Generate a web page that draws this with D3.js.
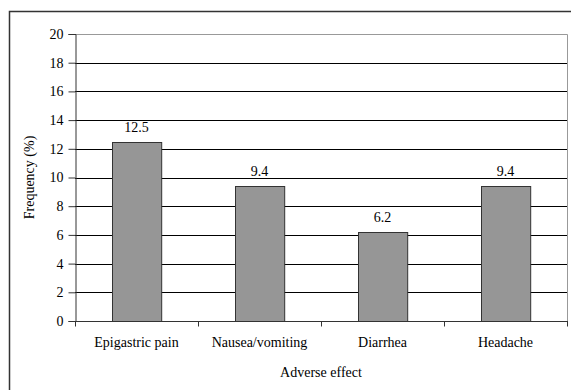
<!DOCTYPE html>
<html>
<head>
<meta charset="utf-8">
<script src="https://cdn.jsdelivr.net/npm/d3@7"></script>
<style>
  body { margin: 0; background: #fff; }
</style>
</head>
<body>
<div id="chart"></div>
<script>
const categories = ["Epigastric pain", "Nausea/vomiting", "Diarrhea", "Headache"];
const frequency = [12.5, 9.4, 6.2, 9.4];
const yTicks = [0, 2, 4, 6, 8, 10, 12, 14, 16, 18, 20];

const width = 571, height = 390;
const margin = {top: 34, right: 4, bottom: 69, left: 75};
const serif = "'Liberation Serif', 'Times New Roman', serif";

const svg = d3.select("#chart")
    .append("svg")
    .attr("width", width)
    .attr("height", height)
    .style("font-family", serif);

// outer chart frame (cut off at right and bottom)
svg.append("rect")
    .attr("x", 9.5)
    .attr("y", 11.5)
    .attr("width", width)
    .attr("height", height)
    .attr("fill", "none")
    .attr("stroke", "#333")
    .attr("stroke-width", 1.5);

const x = d3.scaleBand()
    .domain(categories)
    .range([margin.left, width - margin.right])
    .paddingInner(0.6)
    .paddingOuter(0.3);

const y = d3.scaleLinear()
    .domain([0, 20])
    .range([height - margin.bottom, margin.top]);

const g = svg.append("g");

// gridlines
g.selectAll(".grid")
    .data(yTicks.filter(d => d > 0 && d < 20))
    .enter()
    .append("line")
    .attr("x1", margin.left)
    .attr("x2", width - margin.right)
    .attr("y1", d => Math.round(y(d)) + 0.5)
    .attr("y2", d => Math.round(y(d)) + 0.5)
    .attr("stroke", "#000")
    .attr("stroke-width", 1);

// plot area border (top/right)
g.append("path")
    .attr("d", `M${margin.left},${margin.top + 0.5}H${width - margin.right + 0.5}V${height - margin.bottom}`)
    .attr("fill", "none")
    .attr("stroke", "#999")
    .attr("stroke-width", 1);

// bars
g.selectAll(".bar")
    .data(frequency)
    .enter()
    .append("rect")
    .attr("class", "bar")
    .attr("x", (d, i) => Math.round(x(categories[i])) + 0.5)
    .attr("y", d => Math.round(y(d)) + 0.5)
    .attr("width", x.bandwidth())
    .attr("height", d => Math.round(y(0)) - Math.round(y(d)))
    .attr("fill", "#969696")
    .attr("stroke", "#333")
    .attr("stroke-width", 1);

// value labels
g.selectAll(".val")
    .data(frequency)
    .enter()
    .append("text")
    .attr("x", (d, i) => x(categories[i]) + x.bandwidth() / 2)
    .attr("y", d => y(d) - 10)
    .attr("text-anchor", "middle")
    .style("font-family", serif)
    .style("font-size", "14px")
    .text(d => d.toFixed(1));

// y axis
const yAxis = d3.axisLeft(y)
    .tickValues(yTicks)
    .tickSize(7)
    .tickPadding(5);

const yg = svg.append("g")
    .attr("transform", `translate(${margin.left + 0.5},0)`)
    .call(yAxis);
yg.attr("font-family", null);
yg.selectAll("text")
    .style("font-family", serif)
    .style("font-size", "14px");
yg.selectAll("line, path").attr("stroke", "#333");

// x axis, ticks between categories
const xAxisScale = d3.scaleLinear()
    .domain([0, categories.length])
    .range([margin.left, width - margin.right]);

const xg = svg.append("g")
    .attr("transform", `translate(0,${Math.round(y(0)) + 0.5})`);
xg.append("line")
    .attr("x1", margin.left)
    .attr("x2", width - margin.right + 1)
    .attr("stroke", "#333");
xg.selectAll(".tick")
    .data(d3.range(categories.length + 1))
    .enter()
    .append("line")
    .attr("x1", d => Math.round(xAxisScale(d)) + 0.5)
    .attr("x2", d => Math.round(xAxisScale(d)) + 0.5)
    .attr("y1", 0)
    .attr("y2", 5)
    .attr("stroke", "#333");
xg.selectAll(".lbl")
    .data(categories)
    .enter()
    .append("text")
    .attr("x", d => x(d) + x.bandwidth() / 2)
    .attr("y", 25)
    .attr("text-anchor", "middle")
    .style("font-family", serif)
    .style("font-size", "14px")
    .text(d => d);

// axis titles
svg.append("text")
    .attr("x", (margin.left + width - margin.right) / 2)
    .attr("y", 377)
    .attr("text-anchor", "middle")
    .style("font-family", serif)
    .style("font-size", "14px")
    .text("Adverse effect");

svg.append("text")
    .attr("transform", `translate(34,${(margin.top + height - margin.bottom) / 2}) rotate(-90)`)
    .attr("text-anchor", "middle")
    .style("font-family", serif)
    .style("font-size", "14px")
    .text("Frequency (%)");
</script>
</body>
</html>
